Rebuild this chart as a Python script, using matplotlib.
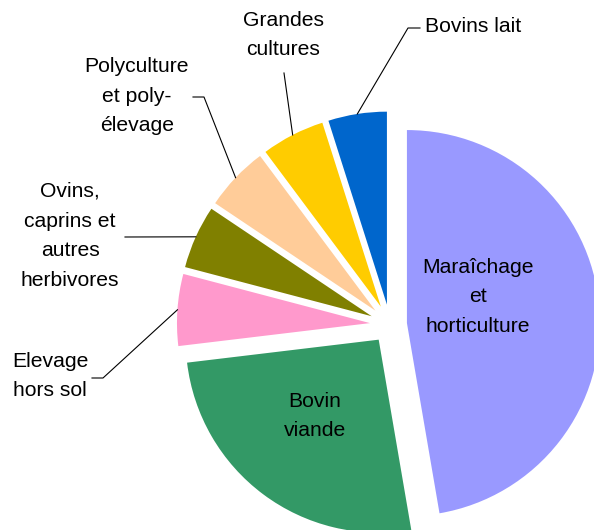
import math
import matplotlib
matplotlib.use("Agg")
import matplotlib.pyplot as plt

# --- DATA ---
categories = ["Maraîchage\net\nhorticulture", "Bovin\nviande", "Elevage\nhors sol",
              "Ovins,\ncaprins et\nautres\nherbivores", "Polyculture\net poly-\nélevage",
              "Grandes\ncultures", "Bovins lait"]
shares = [47.3, 25.8, 6.0, 5.3, 5.4, 5.3, 4.9]
colors = ["#9999FF", "#339966", "#FF99CC", "#808000", "#FFCC99", "#FFCC00", "#0066CC"]
explode_frac = [0.088, 0.098, 0.104, 0.104, 0.104, 0.104, 0.104]

# --- LAYOUT (pixels, y measured from top) ---
W, H = 594, 530
cx, cy, radius = 390, 324.5, 193


def py(y):
    return H - y


plt.rcParams['font.family'] = ['Liberation Sans', 'DejaVu Sans']
fig = plt.figure(figsize=(W / 100, H / 100), dpi=100)
ax = fig.add_axes([0, 0, 1, 1])

wedges, _ = ax.pie(shares, colors=colors, startangle=90, counterclock=False,
                   center=(cx, py(cy)), radius=radius,
                   explode=[e * radius for e in explode_frac],
                   wedgeprops=dict(linewidth=0))
ax.set_xlim(0, W)
ax.set_ylim(0, H)
ax.set_aspect('auto')
ax.axis('off')

fs = 15.2
ls = 1.72

# labels inside the two big slices
inside = {0: (478, 297), 1: (315, 416)}
for i, (x, y) in inside.items():
    ax.text(x, py(y), categories[i], ha='center', va='center', fontsize=fs,
            linespacing=ls, multialignment='center')

# outside labels with leader lines: text position, then the leader path after the arc point
outside = {
    2: ((50, 376), [(103, 378), (92, 378)]),
    3: ((70, 236), [(125, 237)]),
    4: ((137, 96), [(204, 97), (193, 97)]),
    5: ((283, 35), [(284, 73)]),
}
for i, ((tx, ty), path) in outside.items():
    ax.text(tx, py(ty), categories[i], ha='center', va='center', fontsize=fs,
            linespacing=ls, multialignment='center')

# Bovins lait label is left aligned
ax.text(425, py(27), categories[6], ha='left', va='center', fontsize=fs)
outside[6] = (None, [(408, 28), (420, 28)])

for i, (_, path) in outside.items():
    w = wedges[i]
    tm = math.radians((w.theta1 + w.theta2) / 2)
    x0 = w.center[0] + w.r * math.cos(tm)
    y0 = w.center[1] + w.r * math.sin(tm)
    xs = [x0] + [p[0] for p in path]
    ys = [y0] + [py(p[1]) for p in path]
    ax.plot(xs, ys, color='black', linewidth=0.8)

fig.savefig("out.png", dpi=100)
